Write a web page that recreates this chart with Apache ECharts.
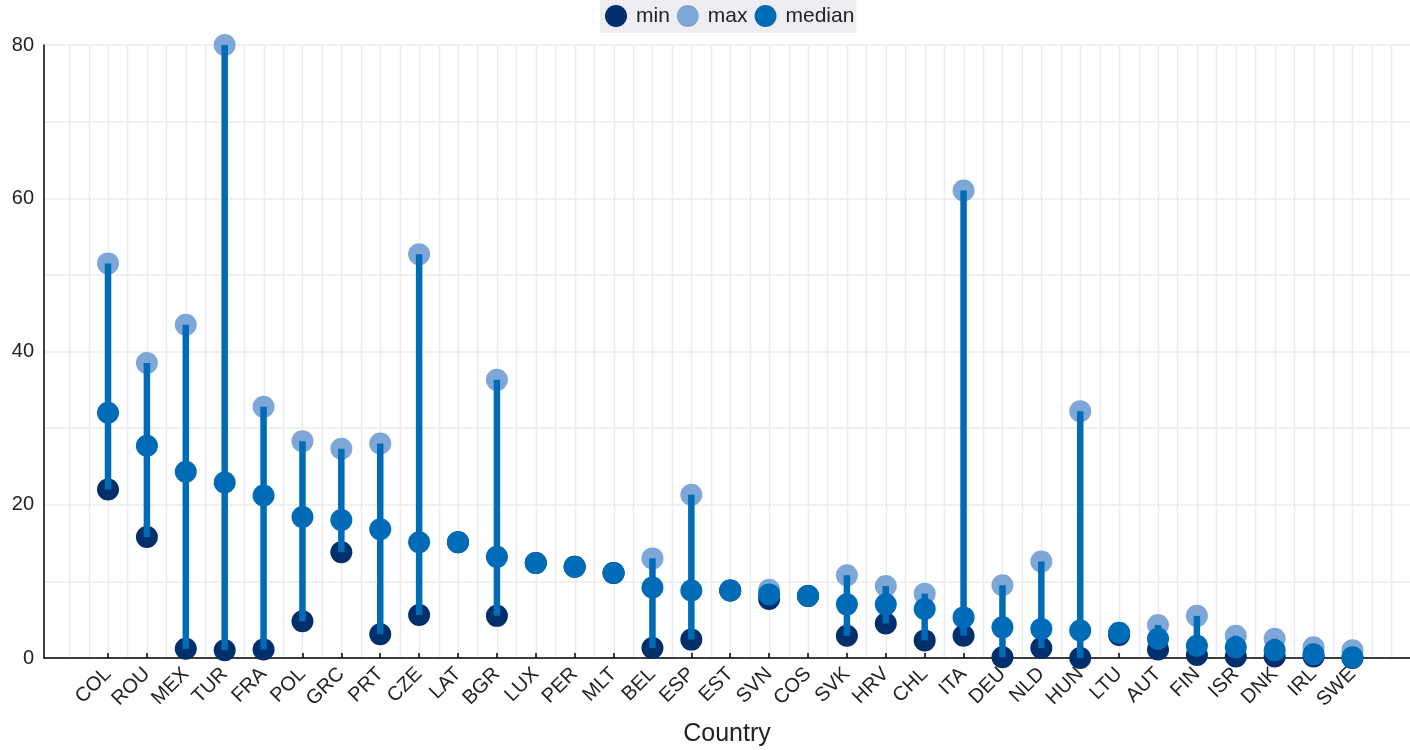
<!DOCTYPE html>
<html>
<head>
<meta charset="utf-8">
<script src="https://cdn.jsdelivr.net/npm/echarts@6/dist/echarts.min.js"></script>
<style>
  html, body { margin: 0; padding: 0; background: #fff; }
  #chart { width: 1410px; height: 750px; }
</style>
</head>
<body>
<div id="chart"></div>
<script>
// Country codes along the horizontal axis
const countries = ['COL','ROU','MEX','TUR','FRA','POL','GRC','PRT','CZE','LAT','BGR','LUX','PER','MLT','BEL','ESP','EST','SVN','COS','SVK','HRV','CHL','ITA','DEU','NLD','HUN','LTU','AUT','FIN','ISR','DNK','IRL','SWE'];

// Per-country minimum, maximum and median values
const minValues = [22.0, 15.8, 1.2, 1.0, 1.1, 4.8, 13.8, 3.1, 5.6, 15.1, 5.5, 12.4, 11.9, 11.1, 1.3, 2.4, 8.8, 7.7, 8.1, 2.9, 4.5, 2.3, 2.9, 0.1, 1.3, 0.0, 3.0, 1.1, 0.4, 0.2, 0.2, 0.2, 0.0];
const maxValues = [51.5, 38.5, 43.5, 80.0, 32.8, 28.3, 27.3, 28.0, 52.7, 15.1, 36.3, 12.4, 11.9, 11.1, 13.0, 21.3, 8.8, 8.9, 8.1, 10.8, 9.4, 8.4, 61.0, 9.5, 12.6, 32.2, 3.3, 4.3, 5.5, 2.9, 2.5, 1.4, 1.0];
const medianValues = [32.0, 27.7, 24.3, 22.9, 21.2, 18.4, 18.0, 16.8, 15.1, 15.1, 13.2, 12.4, 11.9, 11.1, 9.2, 8.8, 8.8, 8.3, 8.1, 7.0, 7.0, 6.4, 5.3, 4.0, 3.8, 3.6, 3.3, 2.5, 1.6, 1.4, 1.0, 0.5, 0.1];

// Y tick labels shown (gridlines every 10)
const yTickLabels = [0, 20, 40, 60, 80];

const COLOR_MIN = '#002f6c';
const COLOR_MAX = '#7ea7d8';
const COLOR_MEDIAN = '#006bb6';
const GRID_COLOR = '#ebebeb';
const FONT = "'Liberation Sans', Arial, sans-serif";

const chart = echarts.init(document.getElementById('chart'), null, { renderer: 'canvas' });

const idx = countries.map((c, i) => i);
const pairs = arr => arr.map((v, i) => [i, v]);

const option = {
  animation: false,
  backgroundColor: '#ffffff',
  grid: { left: 44, right: 0, top: 45, bottom: 92, containLabel: false, outerBoundsMode: 'none' },
  legend: {
    data: ['min', 'max', 'median'],
    top: 0,
    left: 600,
    padding: [5, 2, 6, 5],
    itemGap: 7,
    itemWidth: 22,
    itemHeight: 22,
    icon: 'circle',
    backgroundColor: '#efedf2',
    textStyle: { fontFamily: FONT, fontSize: 21, color: '#222', padding: [0, 0, 0, 4] }
  },
  xAxis: {
    type: 'value',
    min: -1.646,
    max: 33.48,
    name: 'Country',
    nameLocation: 'middle',
    nameGap: 64,
    nameTextStyle: { fontFamily: FONT, fontSize: 25, color: '#222' },
    axisLine: { show: true, onZero: false, lineStyle: { color: '#000', width: 1.5 } },
    axisTick: { show: true, inside: true, length: 5, customValues: idx, lineStyle: { color: '#000', width: 1.5 } },
    axisLabel: {
      customValues: idx,
      rotate: 45,
      margin: 13,
      padding: [56, 0, 0, 0],
      fontFamily: FONT,
      fontSize: 20,
      color: '#222',
      formatter: v => countries[Math.round(v)] || ''
    },
    splitLine: { show: false }
  },
  yAxis: {
    type: 'value',
    min: 0,
    max: 80,
    interval: 10,
    axisLine: { show: true, onZero: false, lineStyle: { color: '#000', width: 1.5 } },
    axisTick: { show: false },
    axisLabel: {
      margin: 10,
      fontFamily: FONT,
      fontSize: 20,
      color: '#222',
      formatter: v => (yTickLabels.indexOf(v) >= 0 ? String(v) : '')
    },
    splitLine: { show: true, lineStyle: { color: GRID_COLOR, width: 1.5 } }
  },
  series: [
    {
      // vertical gridlines at every half category step
      name: 'vgrid',
      type: 'custom',
      silent: true,
      z: 0,
      data: [[0, 0]],
      renderItem: function (params, api) {
        const children = [];
        for (let k = -2; k <= 66; k++) {
          const v = k / 2;
          const a = api.coord([v, 0]);
          const b = api.coord([v, 80]);
          children.push({
            type: 'line',
            shape: { x1: Math.round(a[0]) + 0.5, y1: a[1], x2: Math.round(b[0]) + 0.5, y2: b[1] },
            style: { stroke: GRID_COLOR, lineWidth: 1.5 }
          });
        }
        return { type: 'group', children: children };
      }
    },
    {
      name: 'max',
      type: 'scatter',
      z: 2,
      symbol: 'circle',
      symbolSize: 22,
      itemStyle: { color: COLOR_MAX, opacity: 1 },
      data: pairs(maxValues)
    },
    {
      name: 'min',
      type: 'scatter',
      z: 3,
      symbol: 'circle',
      symbolSize: 22,
      itemStyle: { color: COLOR_MIN, opacity: 1 },
      data: pairs(minValues)
    },
    {
      name: 'range',
      type: 'custom',
      z: 4,
      silent: true,
      encode: { x: 0, y: [1, 2] },
      data: countries.map((c, i) => [i, minValues[i], maxValues[i]]),
      renderItem: function (params, api) {
        const a = api.coord([api.value(0), api.value(1)]);
        const b = api.coord([api.value(0), api.value(2)]);
        return {
          type: 'line',
          shape: { x1: a[0], y1: a[1], x2: b[0], y2: b[1] },
          style: { stroke: COLOR_MEDIAN, lineWidth: 6.5 }
        };
      }
    },
    {
      name: 'median',
      type: 'scatter',
      z: 5,
      symbol: 'circle',
      symbolSize: 22,
      itemStyle: { color: COLOR_MEDIAN, opacity: 1 },
      data: pairs(medianValues)
    }
  ]
};

chart.setOption(option);
</script>
</body>
</html>
